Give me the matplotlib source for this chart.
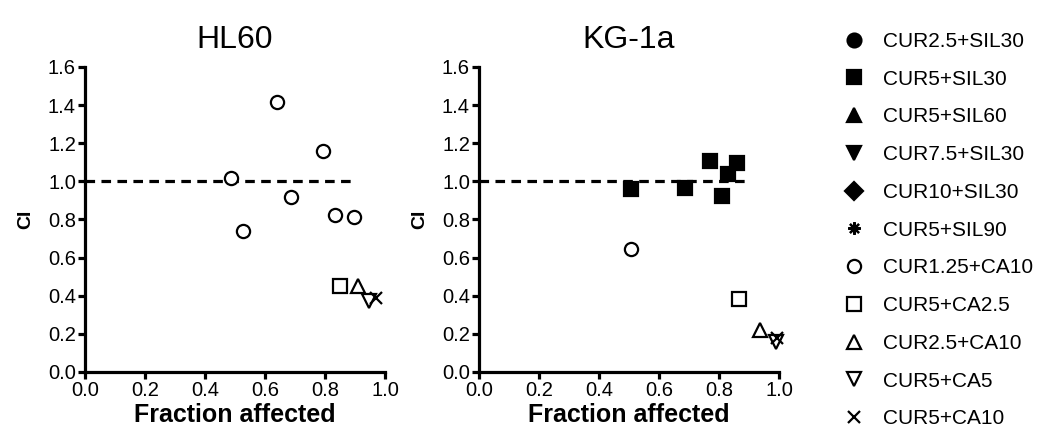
import matplotlib.pyplot as plt
from matplotlib.lines import Line2D

plt.rcParams['font.family'] = ['Liberation Sans', 'DejaVu Sans']

# legend entries: label, marker, filled
labels = ["CUR2.5+SIL30", "CUR5+SIL30", "CUR5+SIL60", "CUR7.5+SIL30",
          "CUR10+SIL30", "CUR5+SIL90", "CUR1.25+CA10", "CUR5+CA2.5",
          "CUR2.5+CA10", "CUR5+CA5", "CUR5+CA10"]
markers = ["o", "s", "^", "v", "D", (8, 2, 0), "o", "s", "^", "v", "x"]
filled = [True, True, True, True, True, True, False, False, False, False, False]
sizes = [10, 10, 10, 10, 9, 9, 9.5, 10, 10, 10, 8]

# HL60 data
hl60 = {
    "CUR1.25+CA10": ([0.486, 0.528, 0.641, 0.687, 0.794, 0.833, 0.897],
                     [1.02, 0.74, 1.415, 0.92, 1.16, 0.825, 0.815]),
    "CUR5+CA2.5": ([0.85], [0.45]),
    "CUR2.5+CA10": ([0.91], [0.45]),
    "CUR5+CA5": ([0.948], [0.37]),
    "CUR5+CA10": ([0.97], [0.39]),
}

# KG-1a data
kg1a = {
    "CUR5+SIL30": ([0.507, 0.687, 0.77, 0.809, 0.831, 0.859],
                   [0.96, 0.965, 1.105, 0.925, 1.04, 1.095]),
    "CUR1.25+CA10": ([0.507], [0.645]),
    "CUR5+CA2.5": ([0.867], [0.385]),
    "CUR2.5+CA10": ([0.937], [0.22]),
    "CUR5+CA5": ([0.99], [0.155]),
    "CUR5+CA10": ([0.992], [0.18]),
}

titles = ["HL60", "KG-1a"]
xticks = [0.0, 0.2, 0.4, 0.6, 0.8, 1.0]
yticks = [0.0, 0.2, 0.4, 0.6, 0.8, 1.0, 1.2, 1.4, 1.6]


def style_of(label):
    i = labels.index(label)
    return dict(marker=markers[i], markersize=sizes[i],
                markerfacecolor="black" if filled[i] else "white",
                markeredgecolor="black", markeredgewidth=1.6,
                color="black", linestyle="none")


fig = plt.figure(figsize=(10.44, 4.43), dpi=100)
ax1 = fig.add_axes([0.0814, 0.1603, 0.2874, 0.6885])
ax2 = fig.add_axes([0.4588, 0.1603, 0.2874, 0.6885])

for ax, title, data in [(ax1, titles[0], hl60), (ax2, titles[1], kg1a)]:
    ax.plot([0, 0.9], [1.0, 1.0], color="black", lw=2.3, dashes=(3, 2))
    for lab, (xs, ys) in data.items():
        ax.plot(xs, ys, clip_on=False, zorder=3, **style_of(lab))
    ax.set_xlim(0, 1)
    ax.set_ylim(0, 1.6)
    ax.set_xticks(xticks)
    ax.set_yticks(yticks)
    ax.set_xticklabels([f"{t:.1f}" for t in xticks])
    ax.set_yticklabels([f"{t:.1f}" for t in yticks])
    ax.spines["top"].set_visible(False)
    ax.spines["right"].set_visible(False)
    for s in ["left", "bottom"]:
        ax.spines[s].set_linewidth(2.3)
    ax.tick_params(direction="out", length=5, width=2.3, labelsize=14.5, pad=1.5)
    ax.set_title(title, fontsize=23, pad=14)
    ax.set_xlabel("Fraction affected", fontsize=18, fontweight="bold", labelpad=2)
    ax.set_ylabel("CI", fontsize=14, fontweight="bold", labelpad=10)

handles = [Line2D([], [], **style_of(l)) for l in labels]
fig.legend(handles, labels, loc="upper left", bbox_to_anchor=(0.80, 0.947),
           frameon=False, fontsize=15, labelspacing=0.9, handlelength=1.0,
           handletextpad=0.9, borderaxespad=0)

fig.savefig("out.png", dpi=100)
